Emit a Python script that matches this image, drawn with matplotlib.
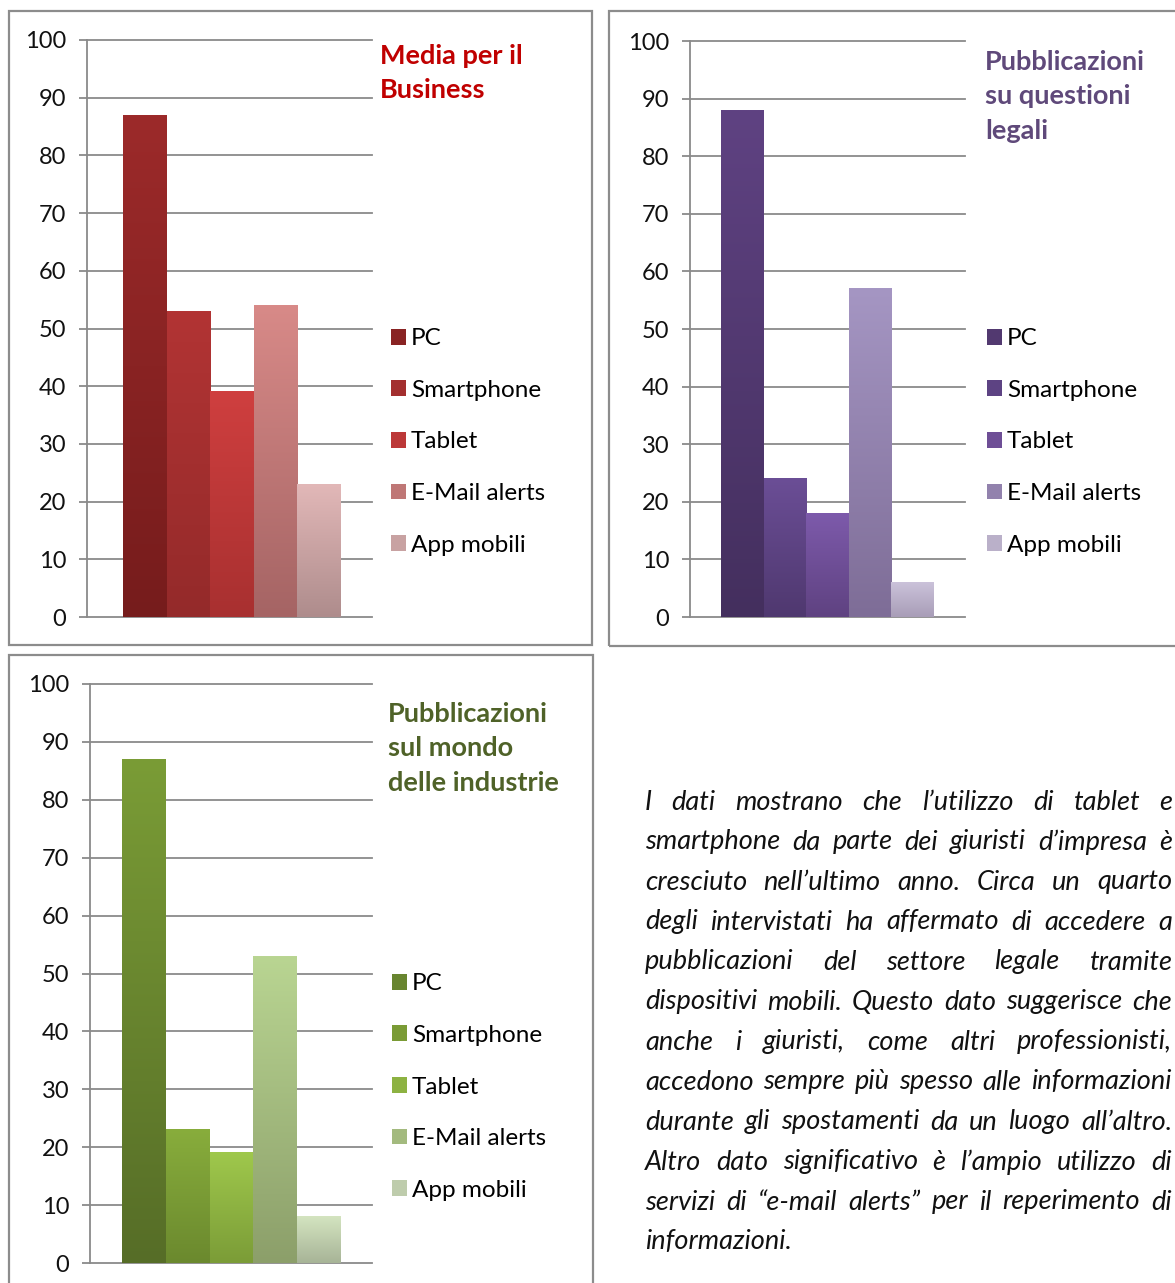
import numpy as np
import matplotlib
matplotlib.use("Agg")
import matplotlib.pyplot as plt
import matplotlib.patches as patches
from matplotlib.colors import to_rgb

# data
series = ["PC", "Smartphone", "Tablet", "E-Mail alerts", "App mobili"]
business = [87, 53, 39, 54, 23]
legali = [88, 24, 18, 57, 6]
industrie = [87, 23, 19, 53, 8]
titles = ["Media per il\nBusiness",
          "Pubblicazioni\nsu questioni\nlegali",
          "Pubblicazioni\nsul mondo\ndelle industrie"]
yticks = list(range(0, 101, 10))

paragraph = [
    "I dati mostrano che l\u2019utilizzo di tablet e",
    "smartphone da parte dei giuristi d\u2019impresa \u00e8",
    "cresciuto nell\u2019ultimo anno. Circa un quarto",
    "degli intervistati ha affermato di accedere a",
    "pubblicazioni del settore legale tramite",
    "dispositivi mobili. Questo dato suggerisce che",
    "anche i giuristi, come altri professionisti,",
    "accedono sempre pi\u00f9 spesso alle informazioni",
    "durante gli spostamenti da un luogo all\u2019altro.",
    "Altro dato significativo \u00e8 l\u2019ampio utilizzo di",
    "servizi di \u201ce-mail alerts\u201d per il reperimento di",
    "informazioni.",
]

# styles: (top, bottom) gradient colours per series
reds = [("#9c2a2a", "#761c1c"), ("#b23434", "#942a2a"), ("#cf3f3f", "#a83030"),
        ("#d88a88", "#a56464"), ("#e2b8b8", "#ae8c8c")]
purples = [("#5f4282", "#442f5e"), ("#6b4e96", "#4f386f"), ("#7d5aab", "#5f4281"),
           ("#a596c3", "#7e6d97"), ("#cbc2da", "#a89db7")]
greens = [("#7a9c36", "#566d27"), ("#88ad3c", "#6b892e"), ("#9fc84c", "#7b9c37"),
          ("#b9d592", "#8c9f6a"), ("#d4e4c0", "#a7b497")]

W, H = 1175, 1283
GRID = "#8a8a8a"
plt.rcParams["font.family"] = ["Lato", "DejaVu Sans"]

fig = plt.figure(figsize=(W / 100, H / 100), dpi=100)


def frac(x0, y0, x1, y1):
    return [x0 / W, 1 - y1 / H, (x1 - x0) / W, (y1 - y0) / H]


def mix(a, b, n=200):
    a, b = np.array(to_rgb(a)), np.array(to_rgb(b))
    t = np.linspace(0, 1, n)[:, None]
    return (a * (1 - t) + b * t)[:, None, :]


def panel(box, axrect, xlim, values, palette, title, tcolor, tpos, lpos):
    fig.add_artist(patches.Rectangle((box[0] / W, 1 - box[3] / H),
                                     (box[2] - box[0]) / W, (box[3] - box[1]) / H,
                                     transform=fig.transFigure, fill=False,
                                     edgecolor="#8c8c8c", linewidth=1.6))
    ax = fig.add_axes(frac(*axrect))
    x = np.arange(len(values)) - 2
    bars = ax.bar(x, values, width=1.0, color=[p[0] for p in palette], zorder=2)
    for b, (ctop, cbot), name in zip(bars, palette, series):
        bx, by = b.get_xy()
        ax.imshow(mix(ctop, cbot), extent=[bx, bx + b.get_width(), by, by + b.get_height()],
                  aspect="auto", origin="upper", zorder=3)
        b.set_label(name)
        b.set_facecolor(mix(ctop, cbot, 3)[1, 0])
    ax.set_xlim(*xlim)
    ax.set_ylim(0, 100)
    ax.set_yticks(yticks)
    ax.set_xticks([])
    for s in ["top", "right", "bottom"]:
        ax.spines[s].set_visible(False)
    ax.spines["left"].set_color(GRID)
    ax.spines["left"].set_linewidth(1.3)
    ax.tick_params(axis="y", length=6, width=1.3, color=GRID, pad=9,
                   labelsize=17, labelcolor="#111111")
    ax.yaxis.grid(True, color=GRID, linewidth=1.3)
    ax.set_axisbelow(True)
    for gl in ax.get_ygridlines():
        gl.set_clip_on(False)
    ax.patch.set_alpha(0)

    fig.text(tpos[0] / W, 1 - tpos[1] / H, title, color=tcolor, fontsize=19.5,
             fontweight="bold", ha="left", va="top", linespacing=1.52)
    fig.legend(handles=list(bars), loc="center left",
               bbox_to_anchor=(lpos[0] / W, 1 - lpos[1] / H),
               frameon=False, fontsize=17.5, borderpad=0, borderaxespad=0,
               handlelength=0.62, handleheight=0.62, handletextpad=0.2,
               labelspacing=1.26)
    return ax


panel((9, 11, 592, 645), (87, 40, 372, 617), (-3.33, 3.21), business, reds,
      titles[0], "#c00000", (380, 44), (391, 442))
panel((609, 11, 1190, 646), (690, 41, 965, 617), (-3.23, 3.23), legali, purples,
      titles[1], "#5f497a", (985, 50), (987, 442))
panel((9, 655, 593, 1300), (90, 684, 372, 1263), (-3.23, 3.21), industrie, greens,
      titles[2], "#4f6228", (388, 702), (392, 1087))

# justified paragraph
left, right = 645, 1172
renderer = fig.canvas.get_renderer()
for i, line in enumerate(paragraph):
    yc = 1 - (802 + 40 * i) / H
    words = line.split(" ")
    texts = [fig.text(0, yc, w, fontsize=19.5, style="italic", color="#111111",
                      va="center", ha="left") for w in words]
    widths = [t.get_window_extent(renderer).width for t in texts]
    if i == len(paragraph) - 1 or len(words) == 1:
        gap = renderer.points_to_pixels(19.5) * 0.25
    else:
        gap = (right - left - sum(widths)) / (len(words) - 1)
    xpos = left
    for t, w in zip(texts, widths):
        t.set_x(xpos / W)
        xpos += w + gap

fig.savefig("out.png", dpi=100)
